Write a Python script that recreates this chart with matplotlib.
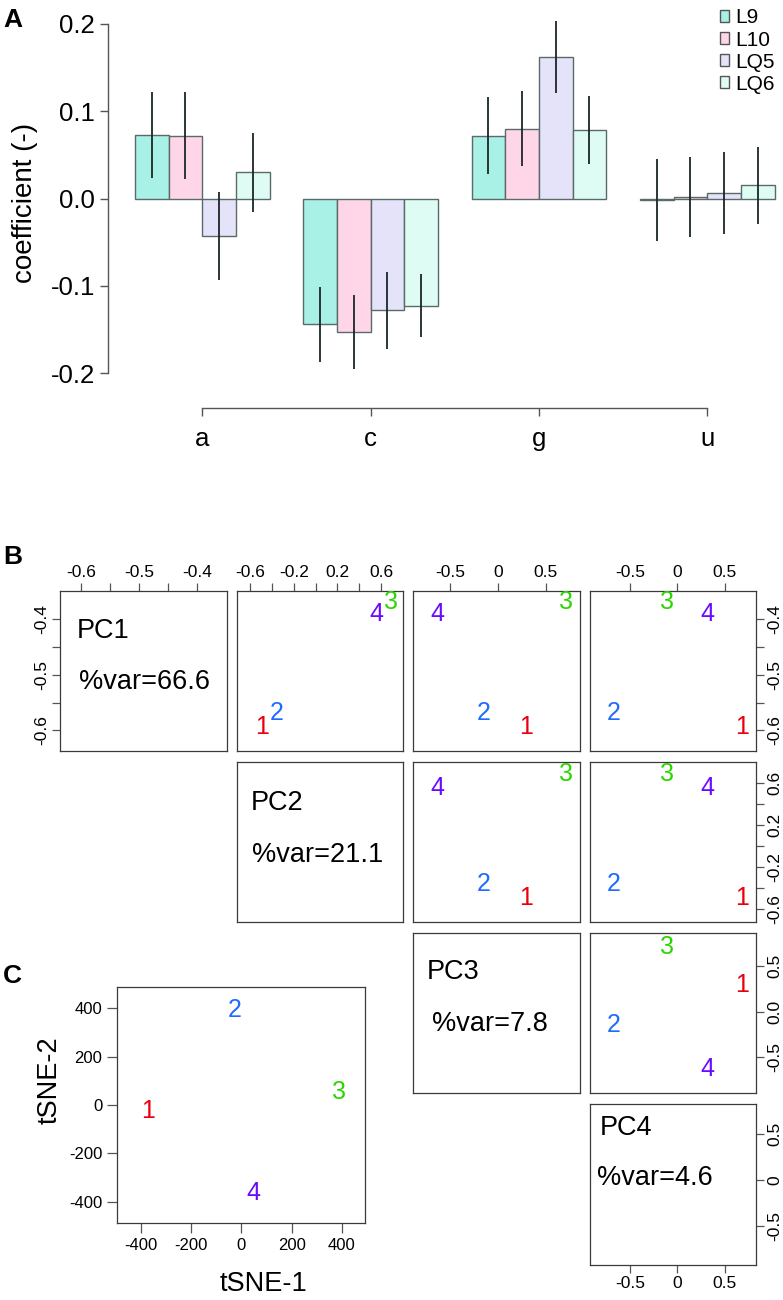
import matplotlib
matplotlib.use("Agg")
import matplotlib.pyplot as plt
from matplotlib.patches import Patch

plt.rcParams['font.family'] = ['Liberation Sans', 'DejaVu Sans']
plt.rcParams['axes.unicode_minus'] = False

W, H = 783, 1300

# ---- panel A data ----
bases = ["a", "c", "g", "u"]
series = ["L9", "L10", "LQ5", "LQ6"]
L9 = [0.073, -0.144, 0.072, -0.002]
L10 = [0.072, -0.153, 0.080, 0.002]
LQ5 = [-0.043, -0.128, 0.162, 0.006]
LQ6 = [0.030, -0.123, 0.079, 0.015]
L9_err = [0.049, 0.043, 0.044, 0.047]
L10_err = [0.050, 0.042, 0.043, 0.046]
LQ5_err = [0.050, 0.044, 0.041, 0.047]
LQ6_err = [0.045, 0.036, 0.039, 0.044]
bar_colors = ["#A9F0E6", "#FFD5E8", "#E5E3FA", "#DEFCF4"]

# ---- panel B data (PCA) ----
samples = ["1", "2", "3", "4"]
sample_colors = ["#E8000B", "#1F6BFF", "#2BD500", "#6A0AFF"]
PC1 = [-0.593, -0.568, -0.368, -0.390]
PC2 = [-0.49, -0.36, 0.69, 0.555]
PC3 = [0.29, -0.15, 0.71, -0.63]
PC4 = [0.68, -0.67, -0.11, 0.32]
pc_names = ["PC1", "PC2", "PC3", "PC4"]
pc_var = ["66.6", "21.1", "7.8", "4.6"]

# ---- panel C data (tSNE) ----
tsne1 = [-372, -28, 390, 48]
tsne2 = [-25, 393, 54, -364]

fig = plt.figure(figsize=(W / 100, H / 100), dpi=100)


def px_axes(x0, y0, x1, y1):
    return fig.add_axes([x0 / W, 1 - y1 / H, (x1 - x0) / W, (y1 - y0) / H])


def px_text(x, y, s, **kw):
    fig.text(x / W, 1 - y / H, s, **kw)


# ================= A =================
ax = px_axes(108, 10, 783, 408)
vals = [L9, L10, LQ5, LQ6]
errs = [L9_err, L10_err, LQ5_err, LQ6_err]
centers = [1, 2, 3, 4]
for k in range(4):
    xs = [c + (k - 1.5) * 0.2 for c in centers]
    ax.bar(xs, vals[k], width=0.2, color=bar_colors[k], edgecolor="#5a6a68",
           linewidth=1.0, label=series[k])
    lo = [v - e for v, e in zip(vals[k], errs[k])]
    hi = [v + e for v, e in zip(vals[k], errs[k])]
    ax.vlines(xs, lo, hi, color="#1c2626", linewidth=1.3)

ax.set_xlim(0.44, 4.45)
ax.set_ylim(-0.240, 0.216)
for s in ["top", "right"]:
    ax.spines[s].set_visible(False)
ax.spines["left"].set_bounds(-0.2, 0.2)
ax.spines["bottom"].set_bounds(1, 4)
for s in ["left", "bottom"]:
    ax.spines[s].set_color("#555555")
    ax.spines[s].set_linewidth(1.0)
ax.set_yticks([-0.2, -0.1, 0.0, 0.1, 0.2])
ax.set_yticklabels(["-0.2", "-0.1", "0.0", "0.1", "0.2"])
ax.set_xticks(centers)
ax.set_xticklabels(bases)
ax.tick_params(axis="both", labelsize=18.5, length=6, color="#555555", width=1.0)
ax.tick_params(axis="x", pad=8)
ax.legend(handles=[Patch(facecolor=c, edgecolor="#555555", label=s)
                   for c, s in zip(bar_colors, series)],
          loc="upper right", bbox_to_anchor=(1.0, 1.025), frameon=False,
          fontsize=15, handlelength=0.45, handleheight=0.5, handletextpad=0.3,
          labelspacing=0.15, borderaxespad=0.0)
px_text(25, 203, "coefficient (-)", fontsize=20, rotation=90, ha="center", va="center")
px_text(3, 20, "A", fontsize=19, fontweight="bold", ha="left", va="center")

# ================= B =================
pcs = [PC1, PC2, PC3, PC4]
lims = [(-0.637, -0.349), (-0.72, 0.80), (-0.89, 0.86), (-0.92, 0.83)]
ticks = [[-0.6, -0.55, -0.5, -0.45, -0.4],
         [-0.6, -0.4, -0.2, 0.0, 0.2, 0.4, 0.6],
         [-0.5, 0.0, 0.5],
         [-0.5, 0.0, 0.5]]
tlabs_top = [["-0.6", "", "-0.5", "", "-0.4"],
             ["-0.6", "", "-0.2", "", "0.2", "", "0.6"],
             ["-0.5", "0", "0.5"],
             ["-0.5", "0", "0.5"]]
tlabs_side = [["-0.6", "", "-0.5", "", "-0.4"],
              ["-0.6", "", "-0.2", "", "0.2", "", "0.6"],
              ["-0.5", "0.0", "0.5"],
              ["-0.5", "0", "0.5"]]
cols = [(60, 227), (237, 403), (413, 580), (590, 756)]
rows = [(591, 751), (762, 922), (933, 1093), (1104, 1265)]
diag_pos = [((77, 631), (79, 682)), ((251, 803), (252, 855)),
            ((427, 972), (432, 1024)), ((600, 1128), (597, 1178))]

for i in range(4):
    for j in range(i, 4):
        x0, x1 = cols[j]
        y0, y1 = rows[i]
        pax = px_axes(x0, y0, x1, y1)
        pax.set_xlim(*lims[j])
        pax.set_ylim(*lims[i])
        for s in pax.spines.values():
            s.set_color("#3a3a3a")
            s.set_linewidth(0.9)
        pax.set_xticks([])
        pax.set_yticks([])
        if i == j:
            (tx, ty), (vx, vy) = diag_pos[i]
            px_text(tx, ty, pc_names[i], fontsize=19.5, ha="left", va="center")
            px_text(vx, vy, "%var=" + pc_var[i], fontsize=19.5, ha="left", va="center")
        else:
            for k in range(4):
                pax.text(pcs[j][k], pcs[i][k], samples[k], color=sample_colors[k],
                         fontsize=18, ha="center", va="center")
        if i == 0:
            pax.set_xticks(ticks[j])
            pax.set_xticklabels(tlabs_top[j])
            pax.tick_params(axis="x", top=True, labeltop=True, bottom=False,
                            labelbottom=False)
        if i == 3 and j == 3:
            pax.set_xticks(ticks[j])
            pax.set_xticklabels(tlabs_top[j])
            pax.tick_params(axis="x", top=False, labeltop=False, bottom=True,
                            labelbottom=True)
        if j == 0:
            pax.set_yticks(ticks[i])
            pax.set_yticklabels(tlabs_side[i], rotation=90, va="center")
        if j == 3:
            pax.set_yticks(ticks[i])
            pax.set_yticklabels(tlabs_side[i], rotation=90, va="center")
            pax.tick_params(axis="y", left=False, labelleft=False, right=True,
                            labelright=True)
        pax.tick_params(labelsize=12.5, length=6, color="#555555", width=0.9, pad=2)

px_text(3, 557, "B", fontsize=19, fontweight="bold", ha="left", va="center")

# ================= C =================
tax = px_axes(117, 987, 365, 1223)
for k in range(4):
    tax.text(tsne1[k], tsne2[k], samples[k], color=sample_colors[k], fontsize=18,
             ha="center", va="center")
tax.set_xlim(-495, 492)
tax.set_ylim(-487, 487)
tax.set_xticks([-400, -200, 0, 200, 400])
tax.set_yticks([-400, -200, 0, 200, 400])
for s in tax.spines.values():
    s.set_color("#3a3a3a")
    s.set_linewidth(0.9)
tax.tick_params(labelsize=12, length=7, color="#555555", width=0.9)
px_text(264, 1284, "tSNE-1", fontsize=19.5, ha="center", va="center")
px_text(50, 1080, "tSNE-2", fontsize=19.5, rotation=90, ha="center", va="center")
px_text(3, 976, "C", fontsize=19, fontweight="bold", ha="left", va="center")

fig.savefig("out.png", dpi=100)
